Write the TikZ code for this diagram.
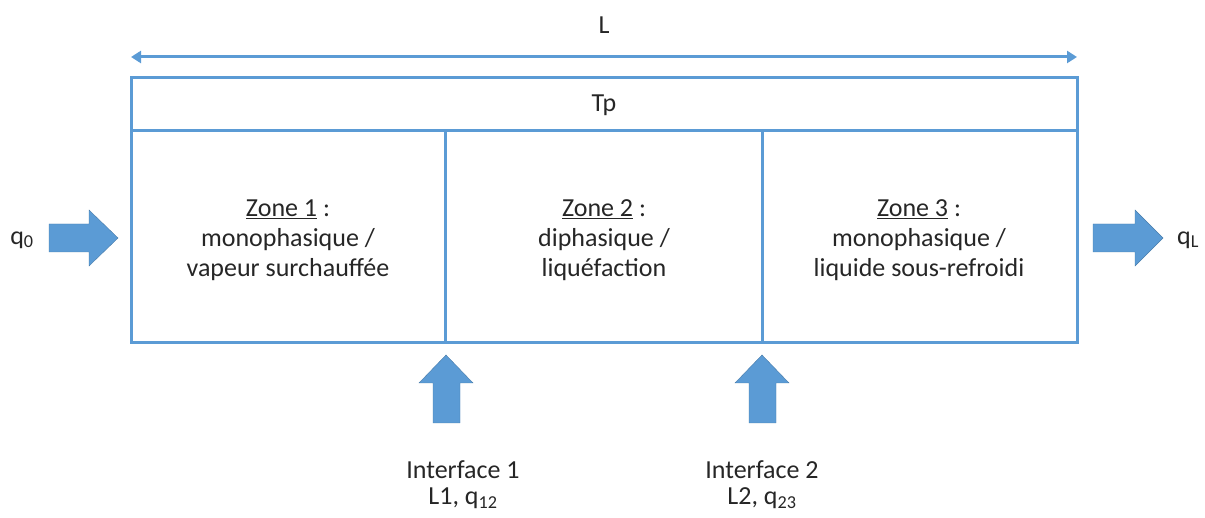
\documentclass[tikz,border=0pt]{standalone}
\usepackage{fontspec}
\setmainfont{Carlito}
\usetikzlibrary{arrows.meta}
\definecolor{accent}{HTML}{5B9BD5}
\definecolor{ink}{HTML}{262626}
\tikzset{
  frame/.style={draw=accent, line width=3pt},
  lbl/.style={font=\fontsize{26}{30}\selectfont, text=ink, align=center, inner sep=0pt},
  fat/.style={fill=accent, draw=accent!80!black, line width=0.4pt},
}
\begin{document}
\begin{tikzpicture}[x=1pt,y=-1pt]
\useasboundingbox (0,0) rectangle (1205,518);
% frame
\draw[frame] (131,78) rectangle (1077,343);
\draw[frame] (131,131) -- (1077,131);
\draw[frame] (445,131) -- (445,343);
\draw[frame] (762,131) -- (762,343);
% length
\coordinate (la) at (131,57);
\coordinate (lb) at (1077,57);
\draw[accent, line width=3pt, {Triangle[width=12pt,length=10pt]}-{Triangle[width=12pt,length=10pt]}] (la) -- (lb);
\node[lbl] (L) at (604,25) {L};
\node[lbl] (Tp) at (604,105) {Tp};
% zones
\node[lbl] (z1) at (288,240) {\underline{Zone 1} :\\monophasique /\\vapeur surchauffée};
\node[lbl] (z2) at (604,240) {\underline{Zone 2} :\\diphasique /\\liquéfaction};
\node[lbl] (z3) at (919,240) {\underline{Zone 3} :\\monophasique /\\liquide sous-refroidi};
% fat arrows
\path[fat] (49,224) -- (89,224) -- (89,210) -- (118,238) -- (89,266) -- (89,252) -- (49,252) -- cycle;
\path[fat] (1093,224) -- (1135,224) -- (1135,210) -- (1163,238) -- (1135,266) -- (1135,252) -- (1093,252) -- cycle;
\path[fat] (433,423) -- (433,383) -- (419,383) -- (446,355) -- (473,383) -- (460,383) -- (460,423) -- cycle;
\path[fat] (749,423) -- (749,383) -- (735,383) -- (762,355) -- (789,383) -- (776,383) -- (776,423) -- cycle;
% labels
\node[lbl] (q0) at (22,240) {q\textsubscript{0}};
\node[lbl] (qL) at (1188,240) {q\textsubscript{L}};
\node[lbl, font=\fontsize{26}{26}\selectfont] (i1) at (463,485) {Interface 1\\L1, q\textsubscript{12}};
\node[lbl, font=\fontsize{26}{26}\selectfont] (i2) at (762,485) {Interface 2\\L2, q\textsubscript{23}};
\end{tikzpicture}
\end{document}
